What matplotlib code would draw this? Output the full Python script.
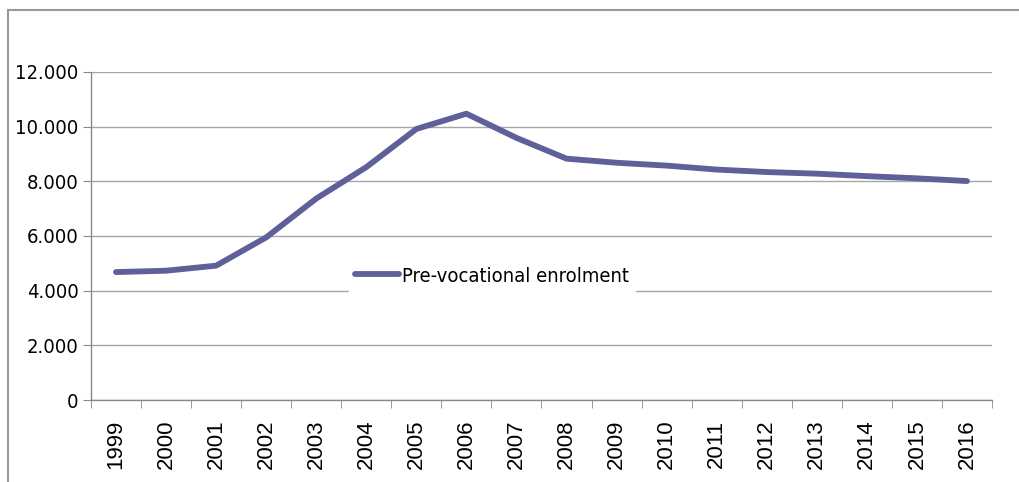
import matplotlib.pyplot as plt
from matplotlib.lines import Line2D
from matplotlib import font_manager

years = ['1999', '2000', '2001', '2002', '2003', '2004', '2005', '2006', '2007',
         '2008', '2009', '2010', '2011', '2012', '2013', '2014', '2015', '2016']
enrolment = [4680, 4730, 4915, 5950, 7370, 8520, 9915, 10475, 9590,
             8830, 8680, 8575, 8430, 8340, 8280, 8190, 8110, 8010]
yticks = [0, 2000, 4000, 6000, 8000, 10000, 12000]
ytick_labels = ['0', '2.000', '4.000', '6.000', '8.000', '10.000', '12.000']

# narrow-looking font for y labels and legend, if a condensed face is there
fonts = font_manager.fontManager.ttflist
cond = [f for f in fonts if f.name == 'DejaVu Sans' and f.stretch == 'condensed'
        and f.weight in (400, 'normal') and f.style == 'normal']
if cond:
    narrow = {'family': 'DejaVu Sans', 'stretch': 'condensed', 'size': 14.5}
else:
    narrow = {'family': 'Liberation Sans', 'size': 14.5}

W, H = 1020, 482
fig = plt.figure(figsize=(W / 100, H / 100), dpi=100)
ax = fig.add_axes([91 / W, (H - 400) / H, (992 - 91) / W, (400 - 72) / H])

x = list(range(len(years)))
ax.plot(x, enrolment, color='#5f5f99', lw=4.2, solid_capstyle='round',
        solid_joinstyle='round', label='Pre-vocational enrolment', zorder=3)

ax.set_xlim(-0.5, len(years) - 0.5)
ax.set_ylim(0, 12000)
ax.set_yticks(yticks)
ax.set_yticklabels(ytick_labels, fontproperties=font_manager.FontProperties(**narrow))
ax.yaxis.grid(True, color='#a6a6a6', lw=1)
ax.set_axisbelow(True)

ax.set_xticks(x)
ax.set_xticklabels(years, rotation=90, family='Liberation Sans', fontsize=16)
ax.set_xticks([i - 0.5 for i in range(len(years) + 1)], minor=True)
ax.tick_params(axis='x', which='major', length=0, pad=14)
ax.tick_params(axis='x', which='minor', length=6, color='#888888')
ax.tick_params(axis='y', length=6, color='#888888', pad=3)

for s in ['top', 'right']:
    ax.spines[s].set_visible(False)
for s in ['left', 'bottom']:
    ax.spines[s].set_color('#888888')
    ax.spines[s].set_linewidth(1)

leg = ax.legend(loc='center', bbox_to_anchor=(492 / W, (H - 276) / H),
                bbox_transform=fig.transFigure, frameon=True, fancybox=False,
                edgecolor='white', framealpha=1, handlelength=2.2,
                handletextpad=0.15, borderpad=0.3,
                prop=font_manager.FontProperties(**narrow))

# outer frame of the chart area
fig.add_artist(Line2D([8 / W, 8 / W], [0, 1 - 9.5 / H], color='#999999', lw=1.5))
fig.add_artist(Line2D([8 / W, 1], [1 - 9.5 / H, 1 - 9.5 / H], color='#999999', lw=1.5))

fig.savefig('out.png', dpi=100)
